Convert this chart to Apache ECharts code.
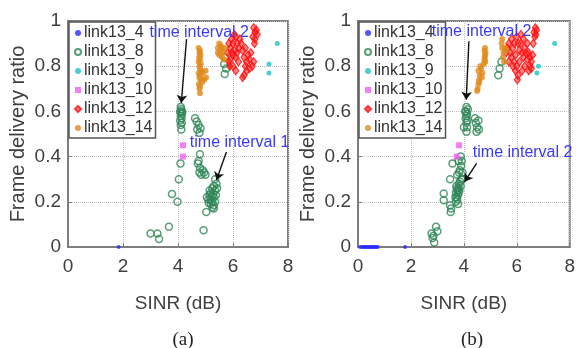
<!DOCTYPE html>
<html>
<head>
<meta charset="utf-8">
<script src="https://cdn.jsdelivr.net/npm/echarts@6/dist/echarts.min.js"></script>
<style>
  html, body { margin: 0; padding: 0; background: #fff; }
  #chart { width: 578px; height: 348px; }
</style>
</head>
<body>
<div id="chart"></div>
<script>
// series names (legend order)
const names = ['link13_4', 'link13_8', 'link13_9', 'link13_10', 'link13_12', 'link13_14'];

// ---- panel (a) ----
const aLink13_4 = [[1.84, 0]];
const aLink13_8 = [
  [4.1, 0.62], [4.12, 0.61], [4.08, 0.6], [4.15, 0.59], [4.1, 0.58], [4.13, 0.57], [4.08, 0.56],
  [4.14, 0.55], [4.1, 0.54], [4.12, 0.52], [4.15, 0.6], [4.1, 0.595],
  [4.09, 0.37], [4.03, 0.3], [3.78, 0.235], [3.98, 0.2], [3.67, 0.09], [3.0, 0.06], [3.25, 0.06], [3.31, 0.035],
  [4.62, 0.57], [4.68, 0.555], [4.75, 0.54], [4.7, 0.52], [4.82, 0.525], [4.78, 0.505],
  [4.8, 0.41], [4.75, 0.38], [4.72, 0.37], [4.8, 0.35], [4.78, 0.33], [4.85, 0.32], [4.95, 0.33], [5.0, 0.32], [4.9, 0.34],
  [5.35, 0.3], [5.4, 0.28], [5.3, 0.27], [5.25, 0.26], [5.35, 0.25], [5.2, 0.24], [5.28, 0.235], [5.15, 0.23],
  [5.22, 0.225], [5.3, 0.22], [5.1, 0.21], [5.18, 0.21], [5.25, 0.2], [5.35, 0.2], [5.12, 0.195], [5.2, 0.19],
  [5.3, 0.185], [5.25, 0.175], [5.38, 0.23], [5.42, 0.26], [5.05, 0.22], [5.15, 0.25], [5.3, 0.17],
  [5.03, 0.155], [4.93, 0.074],
  [5.7, 0.84], [5.68, 0.81], [5.75, 0.79], [5.7, 0.765]
];
const aLink13_9 = [[7.61, 0.9], [7.31, 0.81], [7.31, 0.77]];
const aLink13_10 = [[4.18, 0.45], [4.18, 0.4]];
const aLink13_12 = [
  [5.8, 0.86], [5.85, 0.9], [5.9, 0.88], [5.95, 0.92], [6.0, 0.9], [6.05, 0.87], [6.1, 0.93], [6.0, 0.85],
  [5.9, 0.83], [6.15, 0.9], [6.2, 0.88], [6.1, 0.84], [5.85, 0.82], [6.25, 0.92], [6.3, 0.9], [6.2, 0.82],
  [6.0, 0.8], [5.95, 0.86], [6.05, 0.94], [6.15, 0.86], [5.88, 0.8], [6.1, 0.78], [6.35, 0.87], [6.4, 0.84],
  [6.45, 0.8], [6.5, 0.82], [6.55, 0.85], [6.6, 0.83], [6.5, 0.78], [6.6, 0.79], [6.4, 0.76], [6.35, 0.75],
  [6.7, 0.8], [6.65, 0.86], [6.45, 0.88], [6.75, 0.82], [6.72, 0.93], [6.8, 0.95], [6.75, 0.97], [6.85, 0.96],
  [6.8, 0.92], [6.78, 0.9], [6.88, 0.94]
];
const aLink13_14 = [
  [4.75, 0.88], [4.8, 0.87], [4.78, 0.86], [4.82, 0.85], [4.77, 0.84], [4.8, 0.83], [4.75, 0.82], [4.83, 0.81],
  [4.78, 0.8], [4.8, 0.79], [4.85, 0.78], [4.75, 0.77], [4.8, 0.76], [4.78, 0.75], [4.82, 0.74], [4.76, 0.72],
  [4.8, 0.71], [4.78, 0.7], [4.8, 0.68], [4.9, 0.77], [5.0, 0.78], [4.95, 0.74], [5.02, 0.75], [4.88, 0.73],
  [5.45, 0.88], [5.5, 0.9], [5.55, 0.87], [5.5, 0.85], [5.6, 0.88], [5.45, 0.86], [5.65, 0.86], [5.7, 0.88],
  [5.55, 0.89], [5.6, 0.84], [5.68, 0.83]
];

// ---- panel (b) ----
const bLink13_4 = [
  [0.08, 0], [0.15, 0], [0.2, 0], [0.25, 0], [0.3, 0], [0.35, 0], [0.4, 0], [0.45, 0], [0.5, 0],
  [0.55, 0], [0.6, 0], [0.65, 0], [0.7, 0], [0.75, 0], [1.78, 0]
];
const bLink13_8 = [
  [2.78, 0.06], [2.82, 0.04], [2.88, 0.02], [2.95, 0.09], [3.0, 0.07], [2.85, 0.05],
  [3.24, 0.237], [3.24, 0.207], [3.48, 0.185], [3.5, 0.155], [3.52, 0.17], [3.48, 0.3], [3.57, 0.37],
  [3.7, 0.2], [3.72, 0.22], [3.75, 0.21], [3.7, 0.24], [3.78, 0.23], [3.75, 0.25], [3.8, 0.26], [3.72, 0.27],
  [3.82, 0.28], [3.85, 0.29], [3.9, 0.3], [3.78, 0.19], [3.68, 0.22], [3.8, 0.24], [3.88, 0.27], [3.95, 0.3],
  [3.73, 0.26], [3.83, 0.25],
  [3.75, 0.32], [3.85, 0.34], [3.9, 0.36], [3.92, 0.38], [3.88, 0.4], [3.82, 0.33], [3.95, 0.33], [3.8, 0.38],
  [4.1, 0.62], [4.08, 0.6], [4.12, 0.59], [4.1, 0.58], [4.07, 0.57], [4.13, 0.56], [4.1, 0.55], [4.05, 0.6],
  [4.15, 0.61], [4.0, 0.53], [4.1, 0.51], [4.12, 0.53],
  [4.42, 0.57], [4.45, 0.55], [4.5, 0.53], [4.55, 0.56], [4.48, 0.51], [4.57, 0.52],
  [5.3, 0.76], [5.35, 0.79], [5.42, 0.82]
];
const bLink13_9 = [[7.43, 0.9], [6.82, 0.8], [6.76, 0.77]];
const bLink13_10 = [[3.82, 0.45], [3.73, 0.4]];
const bLink13_12 = [
  [5.65, 0.88], [5.7, 0.9], [5.75, 0.86], [5.8, 0.92], [5.85, 0.88], [5.9, 0.9], [5.95, 0.85], [6.0, 0.93],
  [6.05, 0.9], [6.1, 0.87], [5.8, 0.84], [5.9, 0.82], [6.0, 0.8], [6.1, 0.82], [6.15, 0.9], [6.2, 0.86],
  [6.25, 0.84], [6.3, 0.88], [6.35, 0.86], [6.4, 0.83], [6.45, 0.86], [6.5, 0.84], [6.55, 0.82], [6.6, 0.85],
  [6.5, 0.8], [6.3, 0.8], [6.2, 0.78], [6.05, 0.76], [6.02, 0.74], [5.95, 0.78], [6.15, 0.94], [6.25, 0.92],
  [6.4, 0.9], [5.7, 0.82], [5.85, 0.8], [6.65, 0.95], [6.7, 0.97], [6.75, 0.96], [6.68, 0.93], [6.72, 0.94],
  [6.62, 0.9], [5.6, 0.86], [6.45, 0.78], [6.55, 0.79]
];
const bLink13_14 = [
  [4.52, 0.7], [4.55, 0.72], [4.58, 0.74], [4.6, 0.76], [4.55, 0.78], [4.62, 0.8], [4.65, 0.79], [4.7, 0.77],
  [4.58, 0.73], [4.68, 0.75], [4.5, 0.69], [4.75, 0.81], [4.78, 0.83], [4.8, 0.85], [4.78, 0.87], [4.8, 0.88],
  [4.82, 0.86], [4.79, 0.84], [4.81, 0.82],
  [5.43, 0.9], [5.45, 0.88], [5.5, 0.86], [5.48, 0.84], [5.52, 0.82], [5.55, 0.88], [5.6, 0.87], [5.45, 0.92]
];

// annotations (data coords): label position, arrow start, arrow tip
const annotA = [
  { text: 'time interval 2', at: [4.77, 0.95], from: [4.31, 0.92], to: [4.12, 0.637] },
  { text: 'time interval 1', at: [6.24, 0.46], from: [5.76, 0.42], to: [5.4, 0.296] }
];
const annotB = [
  { text: 'time interval 2', at: [4.67, 0.954], from: [4.19, 0.91], to: [4.09, 0.652] },
  { text: 'time interval 2', at: [6.22, 0.416], from: [4.48, 0.37], to: [4.03, 0.289] }
];

const xMin = 0, xMax = 8, xStep = 2;
const yMin = 0, yMax = 1, yStep = 0.2;

const narrow = "'Liberation Sans Narrow', 'Liberation Sans', Arial, sans-serif";
const regular = "'Liberation Sans', Arial, sans-serif";

// marker look per link
const styles = {
  link13_4: { symbol: 'circle', size: 4, itemStyle: { color: '#2b2bff' } },
  link13_8: { symbol: 'circle', size: 7, itemStyle: { color: 'rgba(255,255,255,0)', borderColor: '#2e8656', borderWidth: 1.5 } },
  link13_9: { symbol: 'circle', size: 5, itemStyle: { color: '#1fc3c3' } },
  link13_10: { symbol: 'rect', size: 6, itemStyle: { color: '#f060f0' } },
  link13_12: { symbol: 'diamond', size: [6, 8], itemStyle: { color: 'rgba(255,20,20,0.65)', borderColor: '#ff1010', borderWidth: 1.2 } },
  link13_14: { symbol: 'circle', size: 6, itemStyle: { color: '#e0891a' } }
};

const panels = [
  { data: [aLink13_4, aLink13_8, aLink13_9, aLink13_10, aLink13_12, aLink13_14], annot: annotA },
  { data: [bLink13_4, bLink13_8, bLink13_9, bLink13_10, bLink13_12, bLink13_14], annot: annotB }
];

const gridPos = [
  { left: 68, top: 21, width: 220, height: 226 },
  { left: 358, top: 21, width: 219.5, height: 226 }
];

const series = [];
panels.forEach((p, idx) => {
  names.forEach((n, k) => {
    const st = styles[n];
    series.push({
      name: n,
      type: 'scatter',
      xAxisIndex: idx,
      yAxisIndex: idx,
      symbol: st.symbol,
      symbolSize: st.size,
      itemStyle: st.itemStyle,
      data: p.data[k]
    });
  });
  // annotation text + arrows
  series.push({
    name: 'annot' + idx,
    type: 'scatter',
    xAxisIndex: idx,
    yAxisIndex: idx,
    data: [],
    markLine: {
      silent: true,
      symbol: ['none', 'arrow'],
      symbolSize: 8,
      lineStyle: { color: '#111', width: 1.4, type: 'solid' },
      label: { show: false },
      data: p.annot.map(a => [{ coord: a.from }, { coord: a.to }])
    },
    markPoint: {
      silent: true,
      symbol: 'circle',
      symbolSize: 0,
      label: {
        show: true,
        position: 'inside',
        formatter: '{b}',
        color: '#3a3af5',
        fontSize: 16,
        fontFamily: narrow
      },
      data: p.annot.map(a => ({ name: a.text, coord: a.at }))
    }
  });
});

const chart = echarts.init(document.getElementById('chart'));

const option = {
  animation: false,
  backgroundColor: '#fff',
  title: [
    { text: '(a)', left: 178, top: 326, textAlign: 'center',
      textStyle: { fontFamily: "'Liberation Serif', 'Times New Roman', serif", fontWeight: 'normal', fontSize: 19, color: '#222' } },
    { text: '(b)', left: 467, top: 326, textAlign: 'center',
      textStyle: { fontFamily: "'Liberation Serif', 'Times New Roman', serif", fontWeight: 'normal', fontSize: 19, color: '#222' } }
  ],
  grid: gridPos.map(g => Object.assign({ show: true, borderColor: '#7d7d7d', borderWidth: 2, backgroundColor: '#fff' }, g)),
  legend: gridPos.map(g => ({
    orient: 'vertical',
    left: g.left + 1,
    top: g.top + 1,
    data: names,
    backgroundColor: '#fff',
    borderColor: '#555',
    borderWidth: 1.5,
    padding: [3, 3, 2, 5],
    itemGap: 3,
    itemWidth: 6,
    itemHeight: 6,
    selectedMode: false,
    textStyle: { fontSize: 16, fontFamily: narrow, color: '#333', padding: [0, 0, 0, -2] }
  })),
  xAxis: gridPos.map((g, i) => ({
    gridIndex: i,
    type: 'value',
    min: xMin, max: xMax, interval: xStep,
    name: 'SINR (dB)',
    nameLocation: 'middle',
    nameGap: 47,
    nameTextStyle: { fontSize: 19, fontFamily: narrow, color: '#404040' },
    axisLine: { show: true, lineStyle: { color: '#7d7d7d', width: 2 } },
    axisTick: { show: true, inside: true, length: 4, lineStyle: { color: '#7d7d7d' } },
    axisLabel: { fontSize: 19, fontFamily: narrow, color: '#404040', margin: 10 },
    splitLine: { show: true, lineStyle: { color: '#bdbdbd', type: 'dotted', width: 1 } }
  })),
  yAxis: gridPos.map((g, i) => ({
    gridIndex: i,
    type: 'value',
    min: yMin, max: yMax, interval: yStep,
    name: 'Frame delivery ratio',
    nameLocation: 'middle',
    nameGap: 40,
    nameTextStyle: { fontSize: 20, fontFamily: regular, color: '#404040' },
    axisLine: { show: true, lineStyle: { color: '#7d7d7d', width: 2 } },
    axisTick: { show: true, inside: true, length: 4, lineStyle: { color: '#7d7d7d' } },
    axisLabel: { fontSize: 19, fontFamily: narrow, color: '#404040', margin: 7,
      formatter: v => (v === 0 || v === 1) ? String(v) : v.toFixed(1) },
    splitLine: { show: true, lineStyle: { color: '#bdbdbd', type: 'dotted', width: 1 } }
  })),
  series: series
};

chart.setOption(option);
</script>
</body>
</html>
